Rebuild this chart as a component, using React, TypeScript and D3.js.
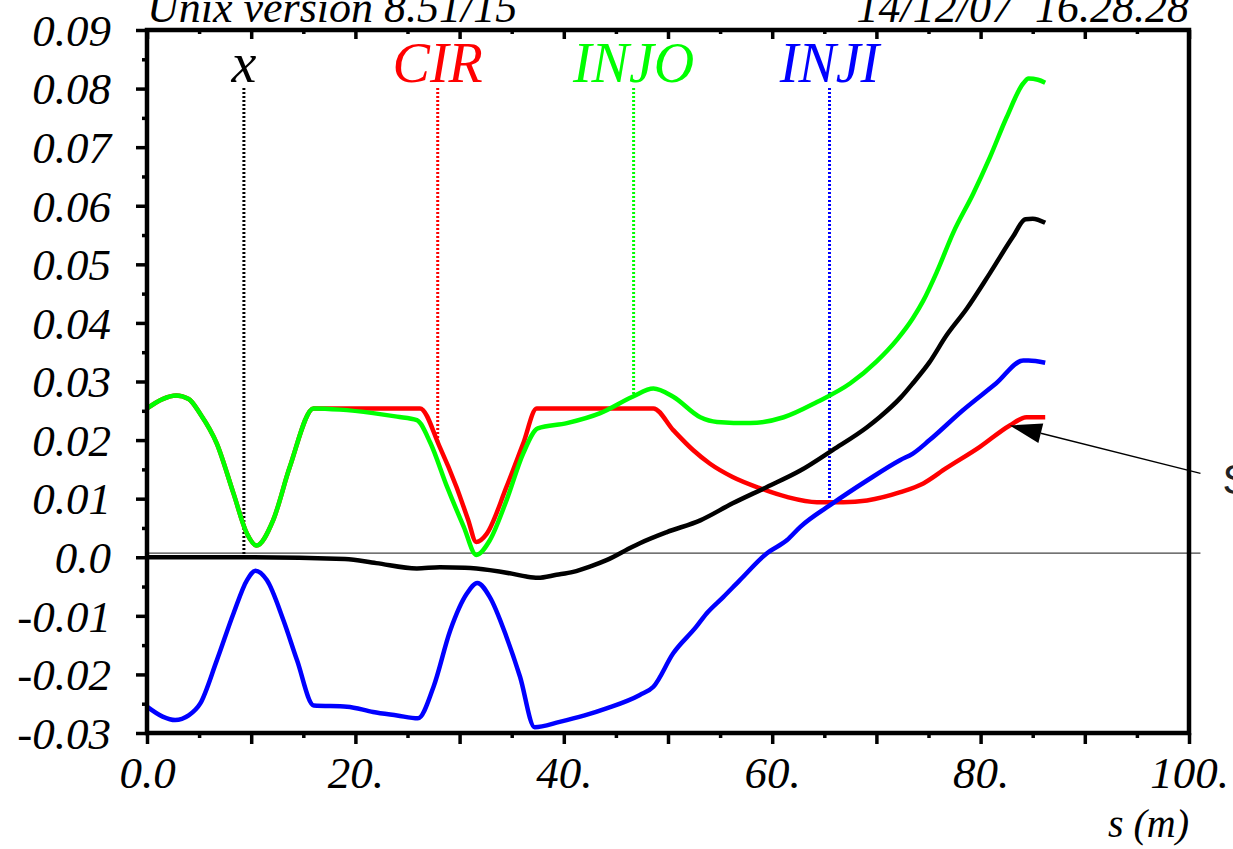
import * as d3 from "d3";
import { useEffect, useRef } from "react";

// black curve (x)
const sX = [0, 10, 19, 22, 25.9, 28.1, 30.5, 32.9, 35, 36.4, 37.5, 39.3, 40.9, 42.5, 44.1, 46.6, 47.3, 49.9, 53.1, 56.2, 59.5, 62.7, 65.8, 69.1, 70.3, 72.3, 73.5, 75.1, 76.7, 78.7, 80.9, 83.1, 84.3, 85, 86.2];
const valX = [0, 0, -0.0003, -0.001, -0.0019, -0.0017, -0.0018, -0.0022, -0.0028, -0.0033, -0.0035, -0.003, -0.0025, -0.0016, -0.0005, 0.0018, 0.0024, 0.0043, 0.0063, 0.0092, 0.012, 0.0148, 0.0183, 0.0222, 0.0239, 0.0272, 0.0297, 0.0333, 0.0378, 0.0425, 0.0485, 0.0547, 0.0577, 0.0578, 0.0571];

// red curve (CIR)
const sCir = [0, 1.5, 2.8, 4, 5.1, 6.7, 8.3, 9.6, 10.5, 12.1, 13.7, 16, 20, 26.2, 28.1, 29.7, 30.8, 31.6, 32.6, 34.5, 36.1, 37.4, 43, 48.6, 50.5, 52.4, 54, 56.2, 58.8, 61.4, 64.3, 66.8, 69.1, 72.3, 74.5, 76.7, 79.9, 82.8, 84.4, 86.2];
const valCir = [0.0254, 0.027, 0.0276, 0.027, 0.0245, 0.0194, 0.0109, 0.004, 0.002, 0.0063, 0.0154, 0.0254, 0.0254, 0.0254, 0.0188, 0.012, 0.0065, 0.0026, 0.004, 0.012, 0.0194, 0.0254, 0.0254, 0.0254, 0.0217, 0.0183, 0.016, 0.0137, 0.0118, 0.0103, 0.0094, 0.0094, 0.0097, 0.0111, 0.0126, 0.0152, 0.0188, 0.0225, 0.0239, 0.0239];

// green curve (INJO)
const sInjo = [0, 1.5, 2.8, 4, 5.1, 6.7, 8.3, 9.6, 10.5, 12.1, 13.7, 16, 18.5, 21.7, 24, 25.9, 27.2, 28.8, 30.4, 31.6, 32.9, 34.5, 36.1, 37.5, 40.3, 43.5, 46.6, 48.6, 50.5, 53.1, 54.7, 57.9, 61.1, 64.3, 67.5, 70, 72, 73.5, 74.5, 75.8, 77.4, 79.3, 80.9, 82.5, 84.1, 84.6, 85.5, 86.2];
const valInjo = [0.0254, 0.027, 0.0276, 0.027, 0.0245, 0.0194, 0.0109, 0.004, 0.002, 0.0063, 0.0154, 0.0254, 0.0252, 0.0246, 0.024, 0.0234, 0.0195, 0.012, 0.0052, 0.0004, 0.0029, 0.0097, 0.0177, 0.022, 0.0229, 0.0246, 0.0274, 0.0288, 0.0274, 0.0239, 0.0231, 0.0229, 0.0239, 0.0265, 0.0297, 0.0334, 0.0372, 0.0408, 0.0438, 0.0487, 0.0555, 0.0621, 0.0683, 0.0751, 0.0809, 0.0817, 0.0815, 0.081];

// blue curve (INJI)
const sInji = [0, 1.5, 2.7, 4, 5.1, 6.7, 8.3, 9.6, 10.4, 11.5, 13.1, 14.4, 16, 19.2, 21.7, 24, 26, 27.5, 29.1, 30.7, 31.7, 32.9, 34.5, 35.8, 37.2, 39.6, 42, 44.1, 47.3, 48.6, 50.5, 52.7, 53.7, 55.3, 56.9, 59.5, 61.4, 62.7, 65.8, 69.1, 72.3, 73.5, 75.1, 78.3, 81.5, 84.1, 84.6, 86.2];
const valInji = [-0.0255, -0.0272, -0.0278, -0.027, -0.025, -0.0176, -0.0096, -0.0039, -0.0023, -0.0039, -0.0108, -0.0176, -0.0253, -0.0255, -0.0264, -0.027, -0.0275, -0.0221, -0.0125, -0.0062, -0.0044, -0.0068, -0.0136, -0.0204, -0.029, -0.0281, -0.027, -0.0258, -0.0235, -0.0221, -0.0164, -0.0119, -0.0096, -0.0068, -0.0039, 0.0007, 0.0029, 0.0052, 0.0092, 0.0131, 0.0166, 0.0177, 0.02, 0.0251, 0.0297, 0.0336, 0.0336, 0.0332];

const markerNames = ["x", "CIR", "INJO", "INJI"];
const markerS = [9.3, 27.9, 46.7, 65.5];
const xTickLabels = ["0.0", "20.", "40.", "60.", "80.", "100."];
const yTickValues = [0.09, 0.08, 0.07, 0.06, 0.05, 0.04, 0.03, 0.02, 0.01, 0, -0.01, -0.02, -0.03];
const yTickLabels = ["0.09", "0.08", "0.07", "0.06", "0.05", "0.04", "0.03", "0.02", "0.01", "0.0", "-0.01", "-0.02", "-0.03"];
const header = "Unix version 8.51/15";
const stamp = "14/12/07  16.28.28";
const xTitle = "s (m)";
const arrowLabel = "S";
const arrowTarget = [82.8, 0.0225];
const arrowTail = [101.1, 0.0143];
const baseline = 0.0007;

function valueAt(xs: number[], vs: number[], s: number) {
  const i = d3.bisectLeft(xs, s);
  if (i <= 0) return vs[0];
  if (i >= xs.length) return vs[vs.length - 1];
  const t = (s - xs[i - 1]) / (xs[i] - xs[i - 1]);
  return vs[i - 1] + t * (vs[i] - vs[i - 1]);
}

export default function App() {
  const ref = useRef<SVGSVGElement>(null);

  useEffect(() => {
    const svg = d3.select(ref.current);
    svg.selectAll("*").remove();

    const left = 147, right = 1189, top = 30, bottom = 733;
    const serif = "'Liberation Serif', 'Times New Roman', serif";

    const x = d3.scaleLinear().domain([0, 100]).range([left, right]);
    const y = d3.scaleLinear().domain([-0.03, 0.09]).range([bottom, top]);

    const series = [
      { s: sCir, v: valCir, color: "#ff0000" },
      { s: sInjo, v: valInjo, color: "#00ff00" },
      { s: sX, v: valX, color: "#000000" },
      { s: sInji, v: valInji, color: "#0000ff" },
    ];
    const markerSeries = [series[2], series[0], series[1], series[3]];

    // zero line (runs out past the frame)
    svg.append("line")
      .attr("x1", left).attr("x2", x(arrowTail[0]))
      .attr("y1", y(baseline)).attr("y2", y(baseline))
      .attr("stroke", "#444").attr("stroke-width", 1.4);

    // dotted marker lines + labels
    markerNames.forEach((name, i) => {
      const ser = markerSeries[i];
      const sx = x(markerS[i]);
      svg.append("line")
        .attr("x1", sx).attr("x2", sx)
        .attr("y1", 88).attr("y2", y(valueAt(ser.s, ser.v, markerS[i])))
        .attr("stroke", ser.color).attr("stroke-width", 3)
        .attr("stroke-dasharray", "2 2");
      svg.append("text")
        .attr("x", sx).attr("y", 82)
        .attr("text-anchor", "middle")
        .attr("font-family", serif).attr("font-style", "italic")
        .attr("font-size", 56).attr("fill", ser.color)
        .text(name);
    });

    // curves
    const line = d3.line<[number, number]>()
      .x((d) => x(d[0]))
      .y((d) => y(d[1]))
      .curve(d3.curveMonotoneX);
    series.forEach((ser) => {
      svg.append("path")
        .datum(ser.s.map((s, i) => [s, ser.v[i]] as [number, number]))
        .attr("d", line)
        .attr("fill", "none")
        .attr("stroke", ser.color)
        .attr("stroke-width", 4.5)
        .attr("stroke-linejoin", "round");
    });

    // frame
    svg.append("rect")
      .attr("x", left).attr("y", top)
      .attr("width", right - left).attr("height", bottom - top)
      .attr("fill", "none").attr("stroke", "#000").attr("stroke-width", 4.5);

    const styleAxis = (g: d3.Selection<SVGGElement, unknown, null, undefined>) => {
      g.select(".domain").remove();
      g.selectAll(".tick line").attr("stroke-width", 3.5);
      g.attr("font-family", serif).attr("font-style", "italic").attr("font-size", 45);
      g.selectAll(".tick text").attr("fill", "#000");
    };

    // bottom axis
    svg.append("g")
      .attr("transform", `translate(0,${bottom})`)
      .call(d3.axisBottom(x).tickValues(d3.range(0, 101, 10)).tickSize(11).tickSizeOuter(0)
        .tickFormat((d) => {
          const k = (d as number) / 20;
          return Number.isInteger(k) ? xTickLabels[k] : "";
        }))
      .call(styleAxis)
      .call((g) => g.selectAll(".tick text").attr("y", 55).attr("dy", 0));
    svg.append("g")
      .attr("transform", `translate(0,${bottom})`)
      .call(d3.axisBottom(x).tickValues(d3.range(5, 100, 10)).tickSize(5).tickSizeOuter(0).tickFormat(() => ""))
      .call(styleAxis);

    // top axis, inward ticks
    svg.append("g")
      .attr("transform", `translate(0,${top})`)
      .call(d3.axisTop(x).tickValues(d3.range(0, 101, 10)).tickSize(-9).tickSizeOuter(0).tickFormat(() => ""))
      .call(styleAxis);
    svg.append("g")
      .attr("transform", `translate(0,${top})`)
      .call(d3.axisTop(x).tickValues(d3.range(5, 100, 10)).tickSize(-4).tickSizeOuter(0).tickFormat(() => ""))
      .call(styleAxis);

    // left axis
    svg.append("g")
      .attr("transform", `translate(${left},0)`)
      .call(d3.axisLeft(y).tickValues(yTickValues).tickSize(11).tickPadding(25).tickSizeOuter(0)
        .tickFormat((_d, i) => yTickLabels[i]))
      .call(styleAxis)
      .call((g) => g.selectAll(".tick text").attr("dy", "0.34em"));
    svg.append("g")
      .attr("transform", `translate(${left},0)`)
      .call(d3.axisLeft(y).tickValues(d3.range(-0.025, 0.09, 0.01)).tickSize(5).tickSizeOuter(0).tickFormat(() => ""))
      .call(styleAxis);

    // header texts (cut by the top edge, as in the source)
    svg.append("text")
      .attr("x", left).attr("y", 22)
      .attr("font-family", serif).attr("font-style", "italic").attr("font-size", 44)
      .text(header);
    svg.append("text")
      .attr("x", right).attr("y", 22).attr("text-anchor", "end")
      .attr("font-family", serif).attr("font-style", "italic").attr("font-size", 44)
      .style("white-space", "pre")
      .text(stamp);

    // axis title
    svg.append("text")
      .attr("x", right).attr("y", 837).attr("text-anchor", "end")
      .attr("font-family", serif).attr("font-style", "italic").attr("font-size", 40)
      .text(xTitle);

    // annotation arrow
    const tip: [number, number] = [x(arrowTarget[0]), y(arrowTarget[1])];
    const tail: [number, number] = [x(arrowTail[0]), y(arrowTail[1])];
    const dx = tail[0] - tip[0], dy = tail[1] - tip[1];
    const len = Math.hypot(dx, dy);
    const ux = dx / len, uy = dy / len;
    const nx = -uy, ny = ux;
    const headLen = 32, headW = 10;
    const base: [number, number] = [tip[0] + ux * headLen, tip[1] + uy * headLen];
    svg.append("line")
      .attr("x1", base[0]).attr("y1", base[1])
      .attr("x2", tail[0]).attr("y2", tail[1])
      .attr("stroke", "#000").attr("stroke-width", 1.3);
    svg.append("polygon")
      .attr("points", [
        tip,
        [base[0] + nx * headW, base[1] + ny * headW],
        [base[0] - nx * headW, base[1] - ny * headW],
      ].map((p) => p.join(",")).join(" "))
      .attr("fill", "#000");
    svg.append("text")
      .attr("x", tail[0] + 22).attr("y", tail[1] + 21)
      .attr("font-family", "'Liberation Sans', Arial, sans-serif")
      .attr("font-size", 42).attr("fill", "#222")
      .text(arrowLabel);
  }, []);

  return (
    <svg
      ref={ref}
      width={1233}
      height={849}
      style={{ position: "absolute", left: 0, top: 0, background: "#fff" }}
    />
  );
}
